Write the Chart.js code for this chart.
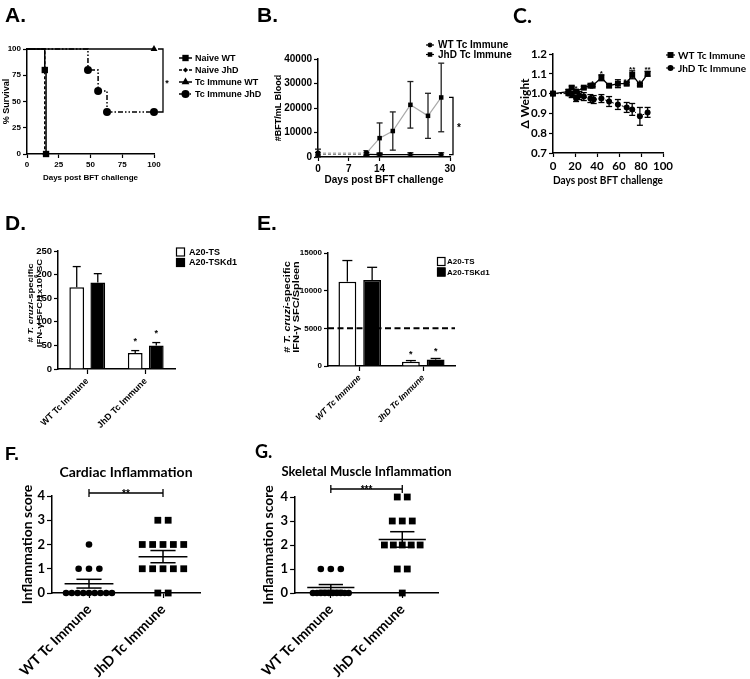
<!DOCTYPE html>
<html><head><meta charset="utf-8"><title>Figure</title>
<script src="https://cdn.jsdelivr.net/npm/chart.js@4.4.1/dist/chart.umd.min.js"></script>
<style>
html,body{margin:0;padding:0;background:#fff;}
#fig{position:relative;width:750px;height:679px;overflow:hidden;background:#fff;}
#fig canvas{position:absolute;}
.pl{position:absolute;font-weight:bold;color:#000;line-height:1;white-space:nowrap;}
.ar{font-family:"Liberation Sans",Arial,sans-serif;}
.la{font-family:Lato,"Open Sans",sans-serif;}
</style></head><body>
<div id="fig">
<canvas id="cA" width="270" height="200" style="left:0;top:0"></canvas>
<canvas id="cB" width="280" height="200" style="left:240px;top:0"></canvas>
<canvas id="cC" width="250" height="200" style="left:500px;top:0"></canvas>
<canvas id="cD" width="250" height="240" style="left:0;top:200px"></canvas>
<canvas id="cE" width="250" height="240" style="left:250px;top:200px"></canvas>
<canvas id="cF" width="250" height="239" style="left:0;top:440px"></canvas>
<canvas id="cG" width="250" height="239" style="left:250px;top:440px"></canvas>
<div class="pl ar" style="left:5px;top:4px;font-size:21px">A.</div>
<div class="pl ar" style="left:257px;top:4px;font-size:21px">B.</div>
<div class="pl la" style="left:513px;top:4px;font-size:21px">C.</div>
<div class="pl ar" style="left:5px;top:212px;font-size:21px">D.</div>
<div class="pl ar" style="left:257px;top:212px;font-size:21px">E.</div>
<div class="pl ar" style="left:5px;top:445px;font-size:18px">F.</div>
<div class="pl la" style="left:255px;top:442px;font-size:18px">G.</div>
</div>
<script>
// ================= DATA =================
// A. survival
const A_days_naiveWT = [0, 14, 15];
const A_surv_naiveWT = [100, 80, 0];
const A_days_naiveJhD = [0, 14];
const A_surv_naiveJhD = [100, 0];
const A_days_immWT = [0, 100];
const A_surv_immWT = [100, 100];
const A_days_immJhD = [0, 48, 56, 63, 100];
const A_surv_immJhD = [100, 80, 60, 40, 40];
const A_ticks = [0, 25, 50, 75, 100];
const A_labels = ['Naive WT', 'Naive JhD', 'Tc Immune WT', 'Tc Immune JhD'];
const A_sig = '*';

// B. parasitemia
const B_days_WT = [0, 11, 14, 21, 28];
const B_bft_WT = [1100, 1100, 1000, 1000, 1000];
const B_err_WT = [700, 700, 600, 700, 700];
const B_days_JhD = [0, 11, 14, 17, 21, 25, 28];
const B_bft_JhD = [1600, 1600, 7700, 10600, 21300, 16800, 24300];
const B_err_JhD = [1600, 1000, 6200, 7800, 9500, 9200, 14000];
const B_xTicks = [0, 7, 14, 30];
const B_yTicks = [0, 10000, 20000, 30000, 40000];
const B_labels = ['WT Tc Immune', 'JhD Tc Immune'];
const B_sig = '*';

// C. weight
const C_days_WT = [0, 14, 17, 21, 28, 34, 36, 44, 51, 59, 67, 72, 79, 86];
const C_wt_WT = [1.00, 1.01, 1.03, 1.01, 1.03, 1.04, 1.04, 1.08, 1.04, 1.05, 1.05, 1.095, 1.045, 1.10];
const C_err_WT = [0.004, 0.01, 0.008, 0.01, 0.006, 0.005, 0.005, 0.015, 0.006, 0.02, 0.006, 0.02, 0.006, 0.012];
const C_stars_WT = ['', '', '', '*', '', '', '*', '*', '', '', '**', '**', '*', '**'];
const C_days_JhD = [0, 14, 17, 21, 24, 28, 34, 37, 44, 51, 59, 67, 72, 79, 86];
const C_wt_JhD = [1.00, 1.00, 0.995, 0.975, 0.99, 0.985, 0.975, 0.97, 0.975, 0.96, 0.945, 0.93, 0.92, 0.885, 0.905];
const C_err_JhD = [0.004, 0.01, 0.015, 0.015, 0.02, 0.02, 0.02, 0.02, 0.02, 0.025, 0.025, 0.025, 0.03, 0.045, 0.025];
const C_xTicks = [0, 20, 40, 60, 80, 100];
const C_yTicks = [0.7, 0.8, 0.9, 1.0, 1.1, 1.2];
const C_labels = ['WT Tc Immune', 'JhD Tc Immune'];

// D. IFN-g SFC / 1x10^6 SC
const D_groups = ['WT Tc Immune', 'JhD Tc Immune'];
const D_series = ['A20-TS', 'A20-TSKd1'];
const D_TS = [173, 34];
const D_TS_err = [44, 5];
const D_Kd1 = [183, 50];
const D_Kd1_err = [19, 6];
const D_stars_TS = ['', '*'];
const D_stars_Kd1 = ['', '*'];
const D_yTicks = [0, 50, 100, 150, 200, 250];
const D_yTitle = [[{t: '# '}, {t: 'T. cruzi', it: true}, {t: '-specific'}], [{t: 'IFN-γ SFC/1x10'}, {t: '6', sup: true}, {t: ' SC'}]];

// E. IFN-g SFC / spleen
const E_groups = ['WT Tc Immune', 'JhD Tc Immune'];
const E_series = ['A20-TS', 'A20-TSKd1'];
const E_TS = [11200, 570];
const E_TS_err = [2800, 150];
const E_Kd1 = [11400, 850];
const E_Kd1_err = [1700, 150];
const E_stars_TS = ['', '*'];
const E_stars_Kd1 = ['', '*'];
const E_threshold = 5000;
const E_yTicks = [0, 5000, 10000, 15000];
const E_yTitle = [[{t: '# '}, {t: 'T. cruzi', it: true}, {t: '-specific'}], [{t: 'IFN-γ SFC/Spleen'}]];

// F. cardiac inflammation scores
const F_groups = ['WT Tc Immune', 'JhD Tc Immune'];
const F_WT = [2, 1, 1, 1, 0, 0, 0, 0, 0, 0, 0, 0, 0];
const F_JhD = [3, 3, 2, 2, 2, 2, 2, 1, 1, 1, 1, 1, 0, 0];
const F_sig = '**';
const F_yTicks = [0, 1, 2, 3, 4];

// G. skeletal muscle inflammation scores
const G_groups = ['WT Tc Immune', 'JhD Tc Immune'];
const G_WT = [1, 1, 1, 0, 0, 0, 0, 0, 0, 0, 0, 0, 0];
const G_JhD = [4, 4, 3, 3, 3, 2, 2, 2, 2, 2, 1, 1, 0];
const G_sig = '***';
const G_yTicks = [0, 1, 2, 3, 4];

// ================= HELPERS =================
const BLACK = '#000';
const AR = '"Liberation Sans", Arial, Helvetica, sans-serif';
const LA = 'Lato, "Open Sans", sans-serif';
const f = (size, family = AR, style = 'normal') => ({size, family, weight: 'bold', style, lineHeight: 1.2});
const fs = (size, family = AR, style = '') => `${style} bold ${size}px ${family}`;
function xy(xs, ys) { return xs.map((x, i) => ({x, y: ys[i]})); }
function txt(ctx, s, x, y, font, align = 'left', base = 'middle') {
  ctx.save(); ctx.font = font; ctx.fillStyle = BLACK; ctx.textAlign = align; ctx.textBaseline = base;
  ctx.fillText(s, x, y); ctx.restore();
}
function richTitle(ctx, cx, cy, lines, size, gap, sy) {
  ctx.save(); ctx.translate(cx, cy); ctx.rotate(-Math.PI / 2);
  ctx.fillStyle = BLACK; ctx.textBaseline = 'middle'; ctx.textAlign = 'left';
  const fontOf = s => `${s.it ? 'italic ' : ''}bold ${s.sup ? size * 0.65 : size}px ${AR}`;
  lines.forEach((segs, i) => {
    let w = 0; segs.forEach(s => { ctx.font = fontOf(s); w += ctx.measureText(s.t).width; });
    ctx.save(); ctx.translate(0, (i - (lines.length - 1) / 2) * gap); ctx.scale(1, sy);
    let x = -w / 2;
    segs.forEach(s => { ctx.font = fontOf(s); ctx.fillText(s.t, x, s.sup ? -size * 0.35 : 0); x += ctx.measureText(s.t).width; });
    ctx.restore();
  });
  ctx.restore();
}
function line(ctx, pts, w = 1.5, dash = [], color = BLACK) {
  ctx.save(); ctx.strokeStyle = color; ctx.lineWidth = w; ctx.setLineDash(dash || []);
  ctx.beginPath(); pts.forEach((p, i) => i ? ctx.lineTo(p[0], p[1]) : ctx.moveTo(p[0], p[1])); ctx.stroke(); ctx.restore();
}
function marker(ctx, style, x, y, r, fill = BLACK) {
  ctx.save(); ctx.fillStyle = fill; ctx.strokeStyle = BLACK; ctx.lineWidth = 1.2; ctx.beginPath();
  if (style === 'rect') { const s = r * Math.SQRT1_2; ctx.rect(x - s, y - s, 2 * s, 2 * s); ctx.fill(); if (fill !== BLACK) ctx.stroke(); }
  else if (style === 'circle') { ctx.arc(x, y, r, 0, 2 * Math.PI); ctx.fill(); }
  else if (style === 'triangle') { ctx.moveTo(x, y - r); ctx.lineTo(x + r * 0.866, y + r * 0.5); ctx.lineTo(x - r * 0.866, y + r * 0.5); ctx.closePath(); ctx.fill(); }
  else if (style === 'rectRot') { ctx.moveTo(x, y - r); ctx.lineTo(x + r, y); ctx.lineTo(x, y + r); ctx.lineTo(x - r, y); ctx.closePath(); ctx.fill(); }
  else if (style === 'star') { ctx.moveTo(x - r, y); ctx.lineTo(x + r, y); ctx.moveTo(x, y - r); ctx.lineTo(x, y + r);
    const d = r * 0.7; ctx.moveTo(x - d, y - d); ctx.lineTo(x + d, y + d); ctx.moveTo(x - d, y + d); ctx.lineTo(x + d, y - d); ctx.stroke(); }
  ctx.restore();
}
function mkLayout(cw, ch, p, yTitleX, yFs, xTitleY, xFs) {
  const pl = yTitleX != null ? yTitleX - 0.6 * yFs : 0;
  const pb = xTitleY != null ? ch - xTitleY - 0.6 * xFs : 0;
  return {padding: {left: pl, right: cw - p.r, top: p.t, bottom: pb}, yW: p.l - pl, xH: ch - pb - p.b};
}
function linAxis(o) {
  const a = {
    type: 'linear', min: o.min, max: o.max, offset: false,
    ticks: {color: BLACK, font: o.font, padding: o.pad ?? 2, autoSkip: false, maxRotation: o.rot || 0, minRotation: o.rot || 0,
      callback: o.labelCb || (v => String(v))},
    grid: {drawOnChartArea: false, drawTicks: true, tickLength: o.tl ?? 4, tickColor: BLACK, tickWidth: 1.2},
    border: {display: true, color: BLACK, width: 1.5},
    title: o.title ? {display: true, text: o.title, color: BLACK, font: o.titleFont, padding: 0} : {display: false},
  };
  if (o.tickVals) a.afterBuildTicks = s => { s.ticks = o.tickVals.map(v => ({value: v})); };
  if (o.fitW != null) a.afterFit = s => { s.width = o.fitW; };
  if (o.fitH != null) a.afterFit = s => { s.height = o.fitH; };
  return a;
}
function catAxis(o) {
  return {
    type: 'category', offset: true,
    ticks: {color: BLACK, font: o.font, padding: 2, autoSkip: false, minRotation: 45, maxRotation: 45},
    grid: {drawOnChartArea: false, drawTicks: true, tickLength: 5, tickColor: BLACK, tickWidth: 1.2, offset: false},
    border: {display: true, color: BLACK, width: 1.5},
    afterFit: s => { s.height = o.fitH; }
  };
}
function errBars(chart, di, errs, cap, color = BLACK, upOnly = false) {
  const meta = chart.getDatasetMeta(di), ys = chart.scales.y, ctx = chart.ctx;
  const ds = chart.data.datasets[di];
  meta.data.forEach((el, i) => {
    const d = ds.data[i]; const v = (typeof d === 'object') ? d.y : d;
    const e = errs[i]; if (!e) return;
    const x = el.x, top = ys.getPixelForValue(v + e), bot = ys.getPixelForValue(upOnly ? v : v - e);
    line(ctx, [[x, top], [x, bot]], 1.3, [], color);
    line(ctx, [[x - cap, top], [x + cap, top]], 1.3, [], color);
    if (!upOnly) line(ctx, [[x - cap, bot], [x + cap, bot]], 1.3, [], color);
  });
}
function jitter(values, center, stepU, maxSpanU) {
  const groups = {};
  values.forEach((v, i) => { (groups[v] = groups[v] || []).push(i); });
  const out = new Array(values.length);
  Object.keys(groups).forEach(k => {
    const idx = groups[k], n = idx.length;
    const step = n > 1 ? Math.min(stepU, maxSpanU / (n - 1)) : 0;
    idx.forEach((i, j) => { out[i] = {x: center + (j - (n - 1) / 2) * step, y: values[i]}; });
  });
  return out;
}
function meanSem(arr) {
  const n = arr.length, m = arr.reduce((a, b) => a + b, 0) / n;
  const sd = Math.sqrt(arr.reduce((a, b) => a + (b - m) * (b - m), 0) / (n - 1));
  return {m, sem: sd / Math.sqrt(n)};
}
const base = (lay) => ({
  responsive: false, animation: false, devicePixelRatio: 1,
  layout: {padding: lay.padding},
  plugins: {legend: {display: false}, tooltip: {enabled: false}, title: {display: false}},
});

// ================= A =================
(function () {
  const L = mkLayout(270, 200, {l: 27, r: 154, t: 49, b: 154}, 7, 9, 178, 8);
  const legR = [4.5, 2.6, 4.5, 4];
  const pA = {id: 'pA', afterDraw(chart) {
    const {ctx, chartArea: ca, scales: {y: ys}} = chart;
    const yTop = ys.getPixelForValue(A_surv_immWT[A_surv_immWT.length - 1]);
    const yBot = ys.getPixelForValue(A_surv_immJhD[A_surv_immJhD.length - 1]);
    const bx = ca.right + 9;
    line(ctx, [[bx - 5, yTop], [bx, yTop], [bx, yBot], [bx - 5, yBot]], 1.3);
    txt(ctx, A_sig, bx + 4, (yTop + yBot) / 2 + 3, fs(9), 'center', 'middle');
    const ds = chart.data.datasets;
    A_labels.forEach((lab, i) => {
      const y = 58 + i * 12;
      line(ctx, [[179, y], [192, y]], 1.5, ds[i].borderDash);
      marker(ctx, ds[i].pointStyle, 185.5, y, legR[i]);
      txt(ctx, lab, 195, y + 0.5, fs(9), 'left', 'middle');
    });
  }};
  const common = {stepped: 'before', borderColor: BLACK, borderWidth: 1.5, pointBackgroundColor: BLACK, pointBorderColor: BLACK, pointBorderWidth: 0, clip: false, fill: false};
  new Chart(document.getElementById('cA'), {
    type: 'line',
    data: {datasets: [
      Object.assign({}, common, {label: A_labels[0], data: xy(A_days_naiveWT, A_surv_naiveWT), pointStyle: 'rect', pointRadius: A_days_naiveWT.map((d, i) => i ? 4.5 : 0)}),
      Object.assign({}, common, {label: A_labels[1], data: xy(A_days_naiveJhD, A_surv_naiveJhD), pointStyle: 'rectRot', borderDash: [3, 2], pointRadius: A_days_naiveJhD.map((d, i) => i ? 2.6 : 0)}),
      Object.assign({}, common, {label: A_labels[2], data: xy(A_days_immWT, A_surv_immWT), pointStyle: 'triangle', pointRadius: A_days_immWT.map((d, i) => i ? 4 : 0)}),
      Object.assign({}, common, {label: A_labels[3], data: xy(A_days_immJhD, A_surv_immJhD), pointStyle: 'circle', borderDash: [5, 2, 1.5, 2, 1.5, 2], pointRadius: A_days_immJhD.map((d, i) => i ? 4 : 0)}),
    ]},
    options: Object.assign(base(L), {scales: {
      x: linAxis({min: 0, max: 100, tickVals: A_ticks, font: f(8), fitH: L.xH, title: 'Days post BFT challenge', titleFont: f(8)}),
      y: linAxis({min: 0, max: 100, tickVals: A_ticks, font: f(8), fitW: L.yW, title: '% Survival', titleFont: f(9)}),
    }}),
    plugins: [pA]
  });
})();

// ================= B =================
(function () {
  const L = mkLayout(280, 200, {l: 78, r: 210, t: 59, b: 157}, 39, 9, 180, 10);
  const pB = {id: 'pB',
    beforeDatasetsDraw(chart) {
      errBars(chart, 1, B_err_JhD, 3, '#222');
      errBars(chart, 0, B_err_WT, 3, BLACK);
    },
    afterDraw(chart) {
      const {ctx, chartArea: ca, scales: {y: ys}} = chart;
      const yTop = ys.getPixelForValue(B_bft_JhD[B_bft_JhD.length - 1]);
      const yBot = ys.getPixelForValue(B_bft_WT[B_bft_WT.length - 1]);
      const bx = ca.right + 3;
      line(ctx, [[bx - 4, yTop], [bx, yTop], [bx, yBot], [bx - 4, yBot]], 1.3);
      txt(ctx, B_sig, bx + 6, (yTop + yBot) / 2 + 2, fs(10), 'center', 'middle');
      const ds = chart.data.datasets;
      B_labels.forEach((lab, i) => {
        const y = 45 + i * 9.5;
        line(ctx, [[186, y], [194, y]], 1.2);
        marker(ctx, ds[i].pointStyle, 190, y, i ? 3.2 : 2.5);
        txt(ctx, lab, 198, y + 0.5, fs(10), 'left', 'middle');
      });
    }};
  new Chart(document.getElementById('cB'), {
    type: 'line',
    data: {datasets: [
      {label: B_labels[0], data: xy(B_days_WT, B_bft_WT), borderColor: BLACK, borderWidth: 1.3, pointStyle: 'star', pointRadius: 2.5, pointBorderColor: BLACK, pointBorderWidth: 1.2, clip: false,
        segment: {borderDash: c => c.p0DataIndex < 1 ? [3, 2] : undefined, borderColor: c => c.p0DataIndex < 1 ? '#888' : BLACK}},
      {label: B_labels[1], data: xy(B_days_JhD, B_bft_JhD), borderColor: '#aaa', borderWidth: 1.2, pointStyle: 'rect', pointRadius: 3.2, pointBackgroundColor: BLACK, pointBorderColor: BLACK, pointBorderWidth: 0, clip: false,
        segment: {borderDash: c => c.p0DataIndex < 1 ? [3, 2] : undefined}},
    ]},
    options: Object.assign(base(L), {scales: {
      x: linAxis({min: 0, max: 30, tickVals: B_xTicks, font: f(10), fitH: L.xH, title: 'Days post BFT challenge', titleFont: f(10)}),
      y: linAxis({min: 0, max: 40000, tickVals: B_yTicks, font: f(10), fitW: L.yW, title: '#BFT/mL Blood', titleFont: f(9)}),
    }}),
    plugins: [pB]
  });
})();

// ================= C =================
(function () {
  const L = mkLayout(250, 200, {l: 53, r: 163, t: 54, b: 153}, 25, 12, 180, 11.5);
  const pC = {id: 'pC',
    beforeDatasetsDraw(chart) {
      errBars(chart, 1, C_err_JhD, 3, BLACK);
      errBars(chart, 0, C_err_WT, 3, BLACK);
    },
    afterDraw(chart) {
      const {ctx, scales: {y: ys}} = chart;
      const meta = chart.getDatasetMeta(0);
      C_stars_WT.forEach((s, i) => {
        if (!s) return;
        const top = ys.getPixelForValue(C_wt_WT[i] + C_err_WT[i]);
        txt(ctx, s, meta.data[i].x, top + 1, fs(8), 'center', 'alphabetic');
      });
      const ds = chart.data.datasets;
      C_labels.forEach((lab, i) => {
        const y = 55 + i * 13;
        line(ctx, [[166, y], [175, y]], 1.2, i ? [2, 1.5] : []);
        marker(ctx, ds[i].pointStyle, 170.5, y, i ? 3 : 4.2);
        txt(ctx, lab, 178, y + 0.5, fs(10, LA), 'left', 'middle');
      });
    }};
  new Chart(document.getElementById('cC'), {
    type: 'line',
    data: {datasets: [
      {label: C_labels[0], data: xy(C_days_WT, C_wt_WT), borderColor: BLACK, borderWidth: 1.3, pointStyle: 'rect', pointRadius: 4.2, pointBackgroundColor: BLACK, pointBorderWidth: 0, clip: false},
      {label: C_labels[1], data: xy(C_days_JhD, C_wt_JhD), borderColor: BLACK, borderWidth: 1, borderDash: [2, 1.5], pointStyle: 'circle', pointRadius: 3, pointBackgroundColor: BLACK, pointBorderWidth: 0, clip: false},
    ]},
    options: Object.assign(base(L), {scales: {
      x: linAxis({min: 0, max: 100, tickVals: C_xTicks, font: f(11.5, LA), fitH: L.xH, title: 'Days post BFT challenge', titleFont: f(11.5, LA)}),
      y: linAxis({min: 0.7, max: 1.2, tickVals: C_yTicks, font: f(11.5, LA), fitW: L.yW, title: 'Δ Weight', titleFont: f(12, LA), labelCb: v => v.toFixed(1)}),
    }}),
    plugins: [pC]
  });
})();

// ================= D / E (bars) =================
function barChart(id, cw, ch, plot, groups, series, s1, e1, s2, e2, st1, st2, yTicks, yMax, tickFont, catFont, leg, barOpts, yTitle, extra) {
  const L = mkLayout(cw, ch, plot);
  const p = {id: 'p' + id,
    afterDatasetsDraw(chart) {
      const {ctx, scales: {y: ys}} = chart;
      errBars(chart, 0, e1, barOpts.cap, BLACK, true);
      errBars(chart, 1, e2, barOpts.cap, BLACK, true);
      [[s1, e1, st1, 0], [s2, e2, st2, 1]].forEach(([vals, errs, stars, di]) => {
        const meta = chart.getDatasetMeta(di);
        stars.forEach((s, i) => {
          if (!s) return;
          const top = ys.getPixelForValue(vals[i] + errs[i]);
          txt(ctx, s, meta.data[i].x, top - barOpts.starGap, fs(barOpts.starFs), 'center', 'alphabetic');
        });
      });
      if (extra) extra(chart);
      series.forEach((lab, i) => {
        const y = leg.y + i * leg.dy;
        ctx.save(); ctx.fillStyle = i ? BLACK : '#fff'; ctx.strokeStyle = BLACK; ctx.lineWidth = 1.2;
        ctx.fillRect(leg.x, y - leg.h / 2, leg.w, leg.h); ctx.strokeRect(leg.x + 0.5, y - leg.h / 2 + 0.5, leg.w - 1, leg.h - 1); ctx.restore();
        txt(ctx, lab, leg.tx, y + 0.5, fs(leg.fs), 'left', 'middle');
      });
      richTitle(ctx, yTitle.x, yTitle.y, yTitle.lines, yTitle.size, yTitle.gap, yTitle.sy);
    }};
  return new Chart(document.getElementById(id), {
    type: 'bar',
    data: {labels: groups, datasets: [
      {label: series[0], data: s1, backgroundColor: '#fff', borderColor: BLACK, borderWidth: 1.5, borderSkipped: 'bottom', categoryPercentage: barOpts.cat, barPercentage: barOpts.bar},
      {label: series[1], data: s2, backgroundColor: BLACK, borderColor: BLACK, borderWidth: 1.5, borderSkipped: 'bottom', categoryPercentage: barOpts.cat, barPercentage: barOpts.bar},
    ]},
    options: Object.assign(base(L), {scales: {
      x: catAxis({font: catFont, fitH: L.xH}),
      y: linAxis({min: 0, max: yMax, tickVals: yTicks, font: tickFont, fitW: L.yW}),
    }}),
    plugins: [p]
  });
}
barChart('cD', 250, 240, {l: 58, r: 175, t: 51, b: 169}, D_groups, D_series, D_TS, D_TS_err, D_Kd1, D_Kd1_err, D_stars_TS, D_stars_Kd1,
  D_yTicks, 250, f(9.5), f(9), {x: 176, y: 52, dy: 10.5, w: 9, h: 9, tx: 189, fs: 9}, {cat: 0.72, bar: 0.7, cap: 4, starGap: 7, starFs: 9},
  {x: 35, y: 103, lines: D_yTitle, size: 9.5, gap: 9, sy: 0.8});
barChart('cE', 250, 240, {l: 78, r: 205, t: 53, b: 166}, E_groups, E_series, E_TS, E_TS_err, E_Kd1, E_Kd1_err, E_stars_TS, E_stars_Kd1,
  E_yTicks, 15000, f(8), f(8.5, AR, 'italic'), {x: 187, y: 61.5, dy: 10.5, w: 8.5, h: 9, tx: 197, fs: 8}, {cat: 0.78, bar: 0.72, cap: 5, starGap: 4, starFs: 9},
  {x: 42, y: 107, lines: E_yTitle, size: 11, gap: 9, sy: 0.75},
  chart => {
    const {ctx, chartArea: ca, scales: {y: ys}} = chart;
    const y = ys.getPixelForValue(E_threshold);
    line(ctx, [[ca.left, y], [ca.right, y]], 2, [6, 3.5]);
  });

// ================= F / G (dot plots) =================
function dotChart(id, plot, yTitleX, groups, wt, jhd, sig, yTicks, title, titleFs, step, maxSpan, bracketOff) {
  const L = mkLayout(250, 239, plot, yTitleX, 14);
  const p = {id: 'p' + id, afterDatasetsDraw(chart) {
    const {ctx, chartArea: ca, scales: {x: xs, y: ys}} = chart;
    [wt, jhd].forEach((arr, gi) => {
      const {m, sem} = meanSem(arr);
      const cx = gi + 1;
      const ym = ys.getPixelForValue(m), yt = ys.getPixelForValue(m + sem), yb = ys.getPixelForValue(m - sem);
      line(ctx, [[xs.getPixelForValue(cx - 0.33), ym], [xs.getPixelForValue(cx + 0.33), ym]], 1.5);
      line(ctx, [[xs.getPixelForValue(cx), yt], [xs.getPixelForValue(cx), yb]], 1.5);
      line(ctx, [[xs.getPixelForValue(cx - 0.17), yt], [xs.getPixelForValue(cx + 0.17), yt]], 1.5);
      line(ctx, [[xs.getPixelForValue(cx - 0.17), yb], [xs.getPixelForValue(cx + 0.17), yb]], 1.5);
    });
    const by = ca.top - bracketOff;
    const x1 = xs.getPixelForValue(1), x2 = xs.getPixelForValue(2);
    line(ctx, [[x1, by + 4], [x1, by - 4], [x1, by], [x2, by], [x2, by - 4], [x2, by + 4]], 1.3);
    txt(ctx, sig, (x1 + x2) / 2, by + 3.5, fs(10), 'center', 'alphabetic');
    txt(ctx, title, (ca.left + ca.right) / 2, 32, fs(titleFs, LA), 'center', 'middle');
  }};
  return new Chart(document.getElementById(id), {
    type: 'scatter',
    data: {datasets: [
      {label: groups[0], data: jitter(wt, 1, step, maxSpan), pointStyle: 'circle', pointRadius: 3.3, pointBackgroundColor: BLACK, pointBorderWidth: 0, clip: false},
      {label: groups[1], data: jitter(jhd, 2, step, maxSpan), pointStyle: 'rect', pointRadius: 4.8, pointBackgroundColor: BLACK, pointBorderWidth: 0, clip: false},
    ]},
    options: Object.assign(base(L), {scales: {
      x: linAxis({min: 0.5, max: 2.5, tickVals: [1, 2], font: f(14, LA), fitH: L.xH, rot: 45, tl: 5, pad: 3, labelCb: (v, i) => groups[i]}),
      y: linAxis({min: 0, max: 4, tickVals: yTicks, font: f(13, LA), fitW: L.yW, title: 'Inflammation score', titleFont: f(14, LA), tl: 5}),
    }}),
    plugins: [p]
  });
}
dotChart('cF', {l: 52, r: 200, t: 56, b: 153}, 27, F_groups, F_WT, F_JhD, F_sig, F_yTicks, 'Cardiac Inflammation', 14, 0.14, 0.62, 3);
dotChart('cG', {l: 45, r: 188, t: 57, b: 153}, 18, G_groups, G_WT, G_JhD, G_sig, G_yTicks, 'Skeletal Muscle Inflammation', 13, 0.14, 0.5, 8);
</script>
</body></html>
